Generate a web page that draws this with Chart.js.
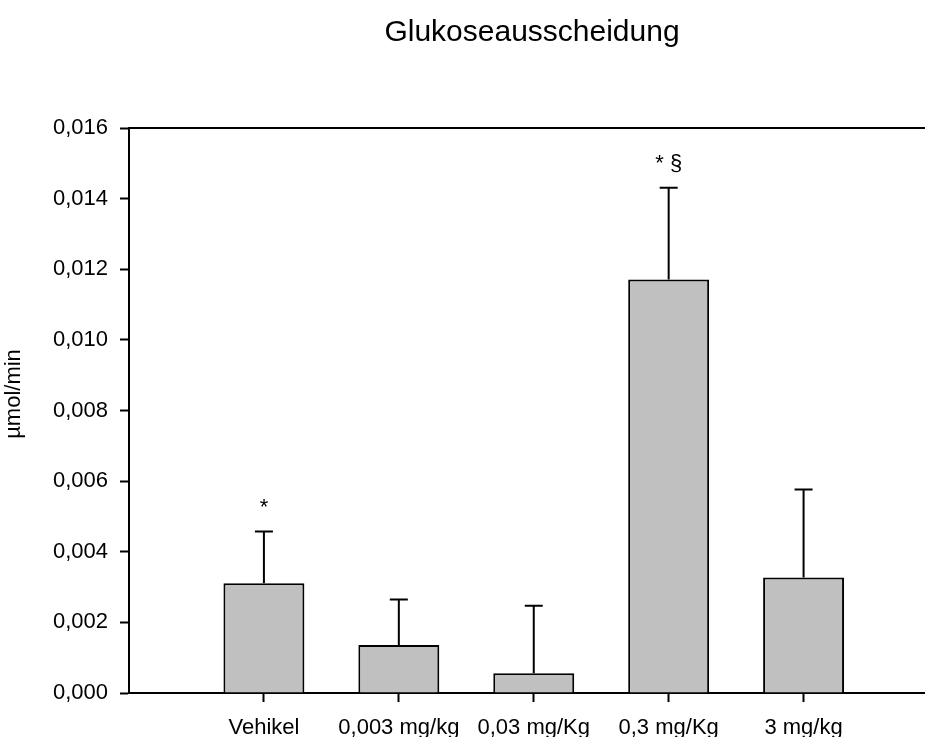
<!DOCTYPE html>
<html>
<head>
<meta charset="utf-8">
<title>Glukoseausscheidung</title>
<script src="https://cdn.jsdelivr.net/npm/chart.js@4.4.1/dist/chart.umd.min.js"></script>
<style>
    html, body { margin: 0; padding: 0; background: #fff; }
    #wrap { width: 925px; height: 737px; }
</style>
</head>
<body>
<div id="wrap"><canvas id="chart" width="925" height="737"></canvas></div>
<script>
/* DATA */

var categories = ["Vehikel", "0,003 mg/kg", "0,03 mg/Kg", "0,3 mg/Kg", "3 mg/kg"];
var meanValues = [0.00311, 0.00136, 0.00056, 0.01171, 0.00327];   // µmol/min
var semValues = [0.00146, 0.00129, 0.00191, 0.00260, 0.00249];    // nur nach oben
var marks = ["*", "", "", "* §", ""];                            // Signifikanz
var yTicks = [0, 0.002, 0.004, 0.006, 0.008, 0.010, 0.012, 0.014, 0.016];

var FONT = "'Liberation Sans', Arial, sans-serif";

/* PLUGINS */

// Fehlerbalken (nur oberer Ast) + Sternchen
var errorBars = {
    id: 'errorBars',
    afterDatasetsDraw: function (chart) {
        var ctx = chart.ctx;
        var xs = chart.scales.x, ys = chart.scales.y;
        ctx.save();
        ctx.strokeStyle = "#000";
        ctx.lineWidth = 2;
        meanValues.forEach(function (v, i) {
            var x = xs.getPixelForValue(i + 1);
            var y0 = ys.getPixelForValue(v);
            var y1 = ys.getPixelForValue(v + semValues[i]);
            ctx.beginPath();
            ctx.moveTo(x, y0);
            ctx.lineTo(x, y1);
            ctx.moveTo(x - 9, y1);
            ctx.lineTo(x + 9, y1);
            ctx.stroke();

            if (marks[i]) {
                ctx.fillStyle = "#000";
                ctx.font = "22px " + FONT;
                ctx.textAlign = "center";
                ctx.textBaseline = "alphabetic";
                ctx.fillText(marks[i], x, y1 - 18);
            }
        });
        ctx.restore();
    },
    afterDraw: function (chart) {
        var ctx = chart.ctx;
        var a = chart.chartArea;
        ctx.save();
        // obere Rahmenlinie
        ctx.strokeStyle = "#000";
        ctx.lineWidth = 2;
        ctx.beginPath();
        ctx.moveTo(a.left, a.top);
        ctx.lineTo(a.right, a.top);
        ctx.stroke();

        // Titel
        ctx.fillStyle = "#000";
        ctx.font = "30px " + FONT;
        ctx.textAlign = "center";
        ctx.textBaseline = "alphabetic";
        ctx.fillText("Glukoseausscheidung", 532, 41);

        // Achsentitel
        ctx.translate(19.5, 394);
        ctx.rotate(-Math.PI / 2);
        ctx.font = "22px " + FONT;
        ctx.fillText("µmol/min", 0, 0);
        ctx.restore();
    }
};

/* CHART */

function GenerateChart(htmltag) {
    var ctx = document.getElementById(htmltag).getContext('2d');

    var points = meanValues.map(function (v, i) {
        return { x: i + 1, y: v };
    });

    return new Chart(ctx, {
        type: 'bar',
        data: {
            datasets: [
                {
                    data: points,
                    backgroundColor: "#c0c0c0",
                    borderColor: "#000",
                    borderWidth: 2,
                    barPercentage: 0.6,
                    categoryPercentage: 1
                }
            ]
        },
        options: {
            responsive: false,
            animation: false,
            layout: { padding: { top: 128, right: 0, left: 0, bottom: 0 } },
            scales: {
                x: {
                    type: 'linear',
                    min: 0,
                    max: 5.9,
                    offset: false,
                    afterBuildTicks: function (scale) {
                        scale.ticks = categories.map(function (c, i) { return { value: i + 1 }; });
                    },
                    afterFit: function (scale) { scale.height = 44; },
                    border: { display: true, color: "#000", width: 2 },
                    grid: {
                        offset: false,
                        drawOnChartArea: false,
                        color: "#000",
                        tickLength: 9,
                        tickWidth: 2
                    },
                    ticks: {
                        autoSkip: false,
                        maxRotation: 0,
                        padding: 13,
                        color: "#000",
                        font: { family: FONT, size: 22 },
                        callback: function (value) {
                            return categories[Math.round(value) - 1];
                        }
                    }
                },
                y: {
                    min: 0,
                    max: 0.016,
                    afterBuildTicks: function (scale) {
                        scale.ticks = yTicks.map(function (v) { return { value: v }; });
                    },
                    afterFit: function (scale) { scale.width = 129; },
                    border: { display: true, color: "#000", width: 2 },
                    grid: {
                        drawOnChartArea: false,
                        color: "#000",
                        tickLength: 9,
                        tickWidth: 2
                    },
                    ticks: {
                        padding: 12,
                        color: "#000",
                        font: { family: FONT, size: 22 },
                        callback: function (value) {
                            return value.toFixed(3).replace('.', ',');
                        }
                    }
                }
            },
            plugins: {
                legend: { display: false },
                tooltip: { enabled: false },
                title: { display: false }
            }
        },
        plugins: [errorBars]
    });
}

GenerateChart("chart");
</script>
</body>
</html>
